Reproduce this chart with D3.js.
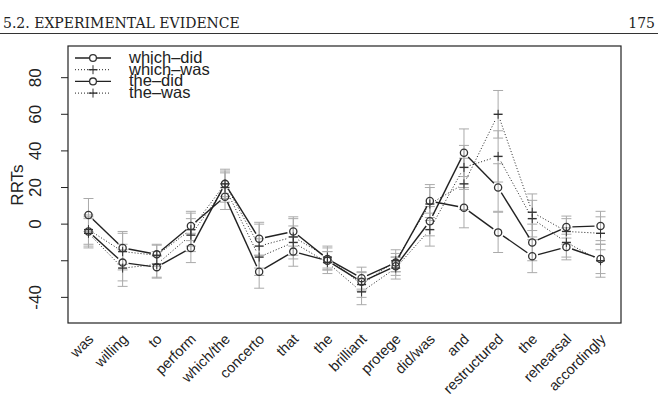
<!doctype html>
<html>
<head>
<meta charset="utf-8">
<title>RRTs</title>
<style>
  body { margin: 0; background: #fff; }
  svg { display: block; }
</style>
</head>
<body>
<script src="https://d3js.org/d3.v7.min.js"></script>
<script>
  // words of the sentence (x axis)
  var words = ["was", "willing", "to", "perform", "which/the", "concerto", "that", "the",
               "brilliant", "protege", "did/was", "and", "restructured", "the", "rehearsal", "accordingly"];

  // mean RRTs per condition
  var whichDid = [5, -13, -16.5, -1, 15, -26, -15, -20, -31.5, -23, 1.6, 39, 20, -10, -1.6, -1];
  var whichWas = [-3, -15, -17, -3, 22, -12, -7, -18, -33, -20, 11, 22, 60, 6.5, -4, -5];
  var theDid   = [-4, -21, -23.5, -13, 22, -8, -4, -19, -29.5, -21, 12.6, 9, -4.5, -17.5, -12.5, -19];
  var theWas   = [-5, -24, -22, -6, 20, -18, -10, -21, -37, -24, -3, 31, 37, 3, -10, -20];

  // half widths of the error bars
  var errWhichDid = [9, 9, 5, 8, 7, 9, 8, 5, 5, 5, 8, 13, 13, 10, 6, 8];
  var errWhichWas = [8, 10, 6, 9, 7, 12, 10, 6, 7, 6, 9, 14, 13, 10, 7, 9];
  var errTheDid   = [8, 10, 6, 8, 8, 9, 8, 6, 6, 5, 9, 11, 11, 9, 7, 8];
  var errTheWas   = [8, 10, 7, 9, 8, 10, 9, 6, 7, 6, 9, 12, 14, 10, 8, 9];

  var yTicks = [-40, -20, 0, 20, 40, 60, 80];

  var series = [
    {name: "which\u2013did", vals: whichDid, err: errWhichDid, dash: null, pch: "o"},
    {name: "which\u2013was", vals: whichWas, err: errWhichWas, dash: "1,2", pch: "+"},
    {name: "the\u2013did",   vals: theDid,   err: errTheDid,   dash: null, pch: "o"},
    {name: "the\u2013was",   vals: theWas,   err: errTheWas,   dash: "1,2", pch: "+"}
  ];

  var w = 658, h = 414;
  var plotL = 68, plotR = 621, plotT = 46, plotB = 323;

  var svg = d3.select("body").append("svg")
    .attr("width", w)
    .attr("height", h);

  // page header
  svg.append("text")
    .attr("x", 3).attr("y", 28)
    .style("font-family", "'DejaVu Serif', serif")
    .style("font-size", "14px")
    .attr("fill", "#222")
    .text("5.2.  EXPERIMENTAL EVIDENCE");
  svg.append("text")
    .attr("x", 655).attr("y", 28)
    .attr("text-anchor", "end")
    .style("font-family", "'DejaVu Serif', serif")
    .style("font-size", "14px")
    .attr("fill", "#222")
    .text("175");
  svg.append("line")
    .attr("x1", 0).attr("x2", 658)
    .attr("y1", 33.5).attr("y2", 33.5)
    .attr("stroke", "#333").attr("stroke-width", 1);

  var x = d3.scaleLinear().domain([0.4, 16.6]).range([plotL, plotR]);
  var y = d3.scaleLinear().domain([-54, 97.3]).range([plotB, plotT]);

  // y axis
  var yAxis = d3.axisLeft(y)
    .tickValues(yTicks)
    .tickSize(7)
    .tickPadding(6)
    .tickFormat(function(d) { return d == -20 ? "" : d; });
  var gy = svg.append("g")
    .attr("transform", "translate(" + plotL + ",0)")
    .call(yAxis);
  gy.select(".domain").remove();
  gy.selectAll("line").attr("stroke", "#222");
  gy.selectAll(".tick").attr("transform", null);
  gy.selectAll(".tick line")
    .attr("y1", function(d) { return y(d); })
    .attr("y2", function(d) { return y(d); });
  gy.selectAll(".tick text")
    .attr("transform", function(d) { return "rotate(-90," + (-33) + "," + y(d) + ")"; })
    .attr("x", -33)
    .attr("y", function(d) { return y(d); })
    .attr("dy", "0.35em")
    .attr("text-anchor", "middle")
    .attr("fill", "#222")
    .style("font-family", "'Liberation Sans', Arial, sans-serif")
    .style("font-size", "17px");

  svg.append("text")
    .attr("transform", "translate(23,185) rotate(-90)")
    .attr("text-anchor", "middle")
    .attr("fill", "#222")
    .style("font-family", "'Liberation Sans', Arial, sans-serif")
    .style("font-size", "17px")
    .text("RRTs");

  // x labels
  svg.append("g").selectAll("text")
    .data(words)
    .enter()
    .append("text")
    .attr("transform", function(d, i) { return "translate(" + (x(i + 1) + 6) + ",340) rotate(-45)"; })
    .attr("text-anchor", "end")
    .attr("fill", "#222")
    .style("font-family", "'Liberation Sans', Arial, sans-serif")
    .style("font-size", "14.5px")
    .text(function(d) { return d; });

  // error bars
  var gErr = svg.append("g");
  series.forEach(function(s) {
    s.vals.forEach(function(v, i) {
      var cx = x(i + 1), lo = y(v - s.err[i]), hi = y(v + s.err[i]);
      gErr.append("line").attr("x1", cx).attr("x2", cx).attr("y1", lo).attr("y2", hi)
        .attr("stroke", "#aaa").attr("stroke-width", 1);
      [lo, hi].forEach(function(yy) {
        gErr.append("line").attr("x1", cx - 5).attr("x2", cx + 5).attr("y1", yy).attr("y2", yy)
          .attr("stroke", "#aaa").attr("stroke-width", 1);
      });
    });
  });

  // lines with gaps around the points (type "b")
  var gap = 6;
  series.forEach(function(s) {
    var g = svg.append("g");
    for (var i = 0; i < s.vals.length - 1; i++) {
      var x0 = x(i + 1), y0 = y(s.vals[i]), x1 = x(i + 2), y1 = y(s.vals[i + 1]);
      var dx = x1 - x0, dy = y1 - y0, len = Math.sqrt(dx * dx + dy * dy);
      if (len <= 2 * gap) continue;
      var ux = dx / len, uy = dy / len;
      g.append("line")
        .attr("x1", x0 + ux * gap).attr("y1", y0 + uy * gap)
        .attr("x2", x1 - ux * gap).attr("y2", y1 - uy * gap)
        .attr("stroke", "#222")
        .attr("stroke-width", s.dash ? 1 : 1.4)
        .attr("stroke-dasharray", s.dash);
    }
    s.vals.forEach(function(v, i) {
      drawPch(g, s.pch, x(i + 1), y(v));
    });
  });

  function drawPch(g, pch, cx, cy) {
    if (pch == "o") {
      g.append("circle").attr("cx", cx).attr("cy", cy).attr("r", 3.6)
        .attr("fill", "none").attr("stroke", "#333").attr("stroke-width", 1.3);
    } else {
      g.append("line").attr("x1", cx - 4.5).attr("x2", cx + 4.5).attr("y1", cy).attr("y2", cy)
        .attr("stroke", "#333").attr("stroke-width", 1.4);
      g.append("line").attr("x1", cx).attr("x2", cx).attr("y1", cy - 4.5).attr("y2", cy + 4.5)
        .attr("stroke", "#333").attr("stroke-width", 1);
    }
  }

  // legend
  var leg = svg.append("g");
  series.forEach(function(s, i) {
    var ly = 58 + i * 11.7;
    leg.append("line")
      .attr("x1", 75).attr("x2", 111).attr("y1", ly).attr("y2", ly)
      .attr("stroke", "#222")
      .attr("stroke-width", s.dash ? 1 : 1.4)
      .attr("stroke-dasharray", s.dash);
    if (s.pch == "o") {
      leg.append("circle").attr("cx", 93).attr("cy", ly).attr("r", 3.4)
        .attr("fill", "#fff").attr("stroke", "#333").attr("stroke-width", 1.3);
    } else {
      drawPch(leg, "+", 93, ly);
    }
    leg.append("text")
      .attr("x", 129).attr("y", ly + 5)
      .attr("fill", "#222")
      .style("font-family", "'Liberation Sans', Arial, sans-serif")
      .style("font-size", "16.5px")
      .text(s.name);
  });

  // plot frame
  svg.append("rect")
    .attr("x", plotL).attr("y", plotT)
    .attr("width", plotR - plotL).attr("height", plotB - plotT)
    .attr("fill", "none").attr("stroke", "#222").attr("stroke-width", 1.2);
</script>
</body>
</html>
